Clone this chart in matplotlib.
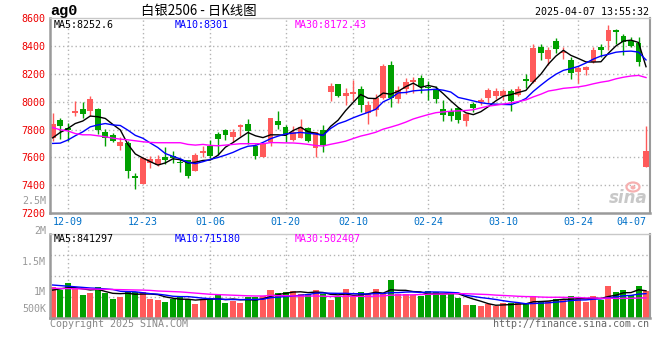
import numpy as np
import pandas as pd
import matplotlib
matplotlib.use("Agg")
import matplotlib.pyplot as plt
from matplotlib.patches import Ellipse

# ---------------- data ----------------
holidays = ["2025-01-01", "2025-01-28", "2025-01-29", "2025-01-30", "2025-01-31",
            "2025-02-03", "2025-02-04", "2025-04-04"]
dates = [d for d in pd.bdate_range("2024-12-05", "2025-04-07")
         if d.strftime("%Y-%m-%d") not in holidays]

opens = [7740, 7867, 7808, 7921, 7945, 7933, 7945, 7779, 7757, 7683,
         7700, 7467, 7405, 7560, 7545, 7600, 7607, 7567, 7581, 7502,
         7633, 7683, 7771, 7795, 7745, 7819, 7838, 7679, 7605, 7707,
         7862, 7821, 7726, 7740, 7810, 7669, 7795, 8069, 8124, 8040,
         8057, 8088, 7917, 7938, 8024, 8267, 8021, 8088, 8140, 8167,
         8107, 8081, 7950, 7933, 7952, 7862, 7981, 7998, 8029, 8040,
         8043, 8079, 8050, 8164, 8140, 8390, 8307, 8436, 8352, 8300,
         8210, 8229, 8288, 8390, 8438, 8514, 8474, 8438, 8424, 7533]
highs = [7917, 7881, 7850, 8002, 7995, 8038, 7952, 7807, 7776, 7748,
         7714, 7488, 7600, 7607, 7620, 7676, 7645, 7595, 7583, 7631,
         7679, 7724, 7783, 7807, 7802, 7838, 7874, 7695, 7700, 7886,
         7933, 7831, 7826, 7874, 7821, 7783, 7831, 8133, 8128, 8095,
         8155, 8112, 8002, 8052, 8271, 8295, 8112, 8167, 8174, 8195,
         8148, 8112, 8010, 7952, 7964, 7917, 7998, 8024, 8100, 8100,
         8090, 8090, 8110, 8200, 8414, 8414, 8390, 8455, 8395, 8324,
         8257, 8257, 8395, 8414, 8550, 8519, 8490, 8467, 8462, 7824]
lows = [7717, 7731, 7719, 7898, 7881, 7898, 7767, 7683, 7712, 7652,
        7455, 7371, 7405, 7521, 7535, 7552, 7557, 7498, 7452, 7500,
        7600, 7593, 7617, 7724, 7712, 7755, 7695, 7588, 7600, 7683,
        7802, 7707, 7714, 7736, 7707, 7605, 7640, 8002, 8033, 7979,
        8002, 7926, 7838, 7898, 8017, 7962, 7988, 8052, 8064, 8064,
        8012, 7988, 7862, 7862, 7845, 7826, 7926, 7974, 7988, 8021,
        8014, 7931, 8038, 8098, 8133, 8300, 8264, 8352, 8305, 8164,
        8133, 8193, 8276, 8324, 8371, 8414, 8336, 8395, 8257, 7533]
closes = [7838, 7824, 7800, 7933, 7910, 8017, 7798, 7740, 7719, 7710,
          7505, 7448, 7593, 7588, 7588, 7583, 7595, 7562, 7469, 7617,
          7645, 7612, 7731, 7760, 7781, 7831, 7790, 7612, 7695, 7881,
          7831, 7771, 7783, 7817, 7719, 7779, 7688, 8110, 8040, 8062,
          8071, 7976, 7974, 8029, 8260, 8029, 8081, 8140, 8155, 8107,
          8100, 8021, 7905, 7898, 7869, 7910, 7952, 8010, 8081, 8076,
          8079, 8007, 8090, 8152, 8388, 8352, 8371, 8376, 8360, 8205,
          8240, 8248, 8371, 8371, 8514, 8500, 8426, 8400, 8288, 7643]

# volumes (lots)
volumes = [1057e3, 1012e3, 1133e3, 1023e3, 928e3, 967e3, 1062e3, 957e3, 867e3, 900e3,
           1000e3, 978e3, 978e3, 867e3, 850e3, 812e3, 867e3, 895e3, 867e3, 778e3,
           862e3, 883e3, 933e3, 800e3, 828e3, 800e3, 895e3, 890e3, 917e3, 1017e3,
           967e3, 983e3, 1000e3, 940e3, 950e3, 1012e3, 950e3, 845e3, 895e3, 1023e3,
           900e3, 978e3, 945e3, 1028e3, 945e3, 1178e3, 940e3, 940e3, 923e3, 917e3,
           995e3, 973e3, 923e3, 978e3, 878e3, 762e3, 762e3, 745e3, 773e3, 745e3,
           790e3, 790e3, 790e3, 790e3, 917e3, 812e3, 828e3, 862e3, 870e3, 912e3,
           870e3, 812e3, 912e3, 845e3, 1078e3, 978e3, 1012e3, 930e3, 1078e3, 995e3]

# moving-average values before enough closes are on the chart
ma5_head = [7740, 7779, 7807, 7843]
ma10_head = [7700, 7702, 7724, 7755, 7783, 7819, 7833, 7843, 7833]
ma30_head = [7814, 7798, 7790, 7771, 7762, 7762, 7755, 7748, 7738, 7731,
             7726, 7719, 7712, 7707, 7705, 7705, 7705, 7705, 7693, 7688,
             7693, 7686, 7683, 7688, 7693, 7698, 7698, 7698, 7698]
vma5_head = [1010e3, 1030e3, 1050e3, 1050e3]
vma10_head = [1095e3, 1085e3, 1075e3, 1065e3, 1055e3, 1045e3, 1040e3, 1030e3, 1020e3]
vma30_head = [1040e3, 1038e3, 1035e3, 1032e3, 1030e3, 1028e3, 1025e3, 1023e3, 1020e3, 1018e3,
              1015e3, 1012e3, 1010e3, 1005e3, 995e3, 990e3, 985e3, 980e3, 970e3, 960e3,
              950e3, 940e3, 935e3, 930e3, 925e3, 920e3, 915e3, 912e3, 912e3]

price_ticks = [7200, 7400, 7600, 7800, 8000, 8200, 8400, 8600]
tick_dates = ["12-09", "12-23", "01-06", "01-20", "02-10", "02-24", "03-10", "03-24", "04-07"]

title_code = "ag0"
title_name = "白银2506 - 日K线图"
stamp = "2025-04-07 13:55:32"
ma_labels = ["MA5:8252.6", "MA10:8301", "MA30:8172.43"]
vma_labels = ["MA5:841297", "MA10:715180", "MA30:502407"]


def moving(values, n, head):
    vals = np.asarray(values, dtype=float)
    tail = [vals[i - n + 1:i + 1].mean() for i in range(n - 1, len(vals))]
    return np.array(list(head) + tail)


# ---------------- style ----------------
RED = "#ff5a5a"
GREEN = "#00a000"
GRID = "#b4b4b4"
FRAME = "#9a9a9a"
MONO = "DejaVu Sans Mono"
FS = 7.2

W, H = 660, 360
fig = plt.figure(figsize=(W / 100, H / 100), dpi=100)
fig.patch.set_facecolor("white")


def rect(l, t, r, b):
    return [l / W, 1 - b / H, (r - l) / W, (b - t) / H]


ax = fig.add_axes(rect(50, 18.2, 650, 213))
axv = fig.add_axes(rect(50, 234, 650, 318))

x = np.arange(len(dates))
o = np.array(opens, float)
c = np.array(closes, float)
hi = np.array(highs, float)
lo = np.array(lows, float)
up = c >= o
cols = np.where(up, RED, GREEN)

date_lbl = [d.strftime("%m-%d") for d in dates]
tick_pos = [date_lbl.index(t) for t in tick_dates]

for a in (ax, axv):
    a.set_xlim(-0.36, len(dates) - 0.47)
    for p in tick_pos[:-1]:
        a.axvline(p, color=GRID, lw=1, ls=(0, (1, 2)), zorder=0)
    a.tick_params(length=0)
    for s in ("left", "bottom"):
        a.spines[s].set_color(FRAME)
        a.spines[s].set_linewidth(1.8)
    a.spines["right"].set_color(FRAME)
    a.spines["right"].set_linewidth(1.5)
    a.spines["top"].set_color("#c8c8c8")
    a.spines["top"].set_linewidth(1)

# ----- price panel -----
ax.set_ylim(7200, 8600)
ax.set_yticks(price_ticks)
ax.set_yticklabels([str(t) for t in price_ticks], color="#ee0000",
                   fontfamily=MONO, fontsize=FS)
for t in price_ticks[1:-1]:
    ax.axhline(t, color=GRID, lw=1, ls=(0, (1, 2)), zorder=0)

ax.vlines(x, lo, hi, colors=cols, lw=1, zorder=2)
body_h = np.maximum(np.abs(c - o), 6)
ax.bar(x, body_h, bottom=np.minimum(o, c), width=0.78, color=cols, linewidth=0, zorder=2)

ax.plot(x, moving(closes, 5, ma5_head), color="black", lw=1, zorder=3)
ax.plot(x, moving(closes, 10, ma10_head), color="#0000ff", lw=1, zorder=3)
ax.plot(x, moving(closes, 30, ma30_head), color="#ff00ff", lw=1, zorder=3)

ax.set_xticks(tick_pos)
ax.set_xticklabels(tick_dates, color="#0070c8", fontfamily=MONO, fontsize=FS)
ax.tick_params(axis="x", pad=3)
ax.tick_params(axis="y", pad=3)
xl = ax.get_xticklabels()
xl[-1].set_horizontalalignment("right")
xl[-1].set_x(tick_pos[-1] + 0.4)

# ----- volume panel -----
vlo, vhi = 545e3, 1945e3
axv.set_ylim(vlo, vhi)
axv.bar(x, np.array(volumes) - vlo, bottom=vlo, width=0.8, color=cols, linewidth=0, zorder=2)
axv.plot(x, moving(volumes, 5, vma5_head), color="black", lw=1, zorder=3)
axv.plot(x, moving(volumes, 10, vma10_head), color="#0000ff", lw=1, zorder=3)
axv.plot(x, moving(volumes, 30, vma30_head), color="#ff00ff", lw=1, zorder=3)
for f in (0.254, 0.504, 0.75):
    axv.plot([0, 1], [f, f], transform=axv.transAxes, color=GRID, lw=1,
             ls=(0, (1, 2)), zorder=0)
axv.set_xticks([])
axv.set_yticks([1.0e6, 1.5e6])
axv.set_yticklabels(["1M", "1.5M"], color="#999999", fontfamily=MONO, fontsize=FS)
axv.tick_params(axis="y", pad=3)

# extra volume-scale labels outside the panel
for val, lab in ((2.0e6, "2M"), (2.5e6, "2.5M")):
    axv.annotate(lab, xy=(0, val), xycoords=("axes fraction", "data"),
                 xytext=(-3, 0), textcoords="offset points", ha="right", va="center",
                 color="#999999", fontfamily=MONO, fontsize=FS, annotation_clip=False)
axv.annotate("500K", xy=(0, 0), xycoords="axes fraction", xytext=(-3, 3),
             textcoords="offset points", ha="right", va="bottom",
             color="#999999", fontfamily=MONO, fontsize=FS, annotation_clip=False)

# ----- texts -----
fig.text(50 / W, 1 - 11 / H, title_code, fontfamily="Liberation Mono", fontweight="bold",
         fontsize=11, va="center", ha="left")
fig.text(140.7 / W, 1 - 11 / H, title_name, fontfamily=["Noto Sans CJK SC", "DejaVu Sans"],
         fontsize=9.6, va="center", ha="left")
fig.text(649 / W, 1 - 12.3 / H, stamp, fontfamily=MONO, fontsize=FS, va="center", ha="right")

for xs, lab, col in zip((54, 174.3, 294.7), ma_labels, ("black", "#0000ff", "#ff00ff")):
    fig.text(xs / W, 1 - 24.5 / H, lab, fontfamily=MONO, fontsize=FS, va="center",
             ha="left", color=col)
for xs, lab, col in zip((54, 174.3, 294.7), vma_labels, ("black", "#0000ff", "#ff00ff")):
    fig.text(xs / W, 1 - 238.5 / H, lab, fontfamily=MONO, fontsize=FS, va="center",
             ha="left", color=col)

fig.text(50 / W, 1 - 323.7 / H, "Copyright 2025 SINA.COM", fontfamily=MONO, fontsize=FS,
         va="center", ha="left", color="#888888")
fig.text(649 / W, 1 - 324 / H, "http://finance.sina.com.cn", fontfamily=MONO, fontsize=FS,
         va="center", ha="right", color="#666666")

# watermark
fig.text(648 / W, 1 - 198 / H, "sina", fontfamily="DejaVu Sans", fontsize=12,
         fontweight="bold", fontstyle="italic", color="#c8c8c8", ha="right", va="center")
fig.add_artist(Ellipse((633 / W, 1 - 187 / H), 13 / W, 9 / H, transform=fig.transFigure,
                       facecolor="none", edgecolor="#f6b0b0", lw=1.6))
fig.add_artist(Ellipse((633 / W, 1 - 187.5 / H), 5 / W, 4 / H, transform=fig.transFigure,
                       facecolor="#f6b0b0", edgecolor="none"))

fig.savefig("out.png", dpi=100, facecolor="white")
